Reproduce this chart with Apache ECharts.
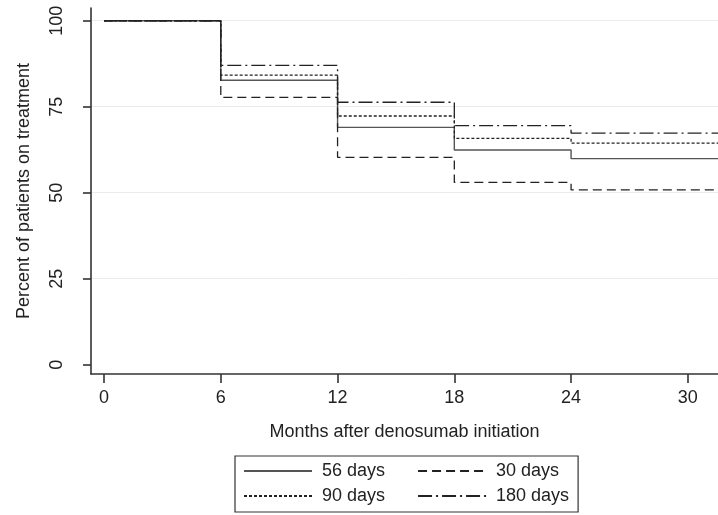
<!DOCTYPE html>
<html>
<head>
<meta charset="utf-8">
<script src="https://cdn.jsdelivr.net/npm/echarts@6/dist/echarts.min.js"></script>
<style>html,body{margin:0;padding:0;background:#fff}#c{width:718px;height:515px}</style>
</head>
<body>
<div id="c"></div>
<script>
// Data
const months = [0, 6, 12, 18, 24];
const days56 = [100, 82.7, 69.0, 62.4, 59.9];
const days30 = [100, 77.7, 60.3, 53.0, 50.8];
const days90 = [100, 84.2, 72.3, 65.8, 64.4];
const days180 = [100, 87.0, 76.3, 69.5, 67.3];
const xTicks = [0, 6, 12, 18, 24, 30];
const yTicks = [0, 25, 50, 75, 100];
const seriesNames = ['56 days', '30 days', '90 days', '180 days'];
const firstColumn = ['56 days', '90 days'];

const X_MIN = -0.67, X_MAX = 31.55, Y_MIN = -2.7, Y_MAX = 103.7;
const FONT = "'Liberation Sans', Arial, Helvetica, sans-serif";
const NB = '\u00a0';

function pts(vals) {
  const p = months.map((m, i) => [m, vals[i]]);
  p.push([X_MAX, vals[vals.length - 1]]);
  return p;
}
function mk(name, vals, type, color, width) {
  return {
    name, type: 'line', step: 'end', symbol: 'none', data: pts(vals),
    lineStyle: { color, width, type }, itemStyle: { color },
    emphasis: { disabled: true }, animation: false
  };
}

const chart = echarts.init(document.getElementById('c'), null, { renderer: 'canvas' });
chart.setOption({
  animation: false,
  backgroundColor: '#fff',
  grid: { left: 91, right: 0, top: 8, bottom: 141, containLabel: false },
  xAxis: {
    type: 'value', min: X_MIN, max: X_MAX,
    name: 'Months after denosumab initiation', nameLocation: 'middle', nameGap: 49,
    nameTextStyle: { fontFamily: FONT, fontSize: 18, color: '#222' },
    axisLine: { show: true, onZero: false, lineStyle: { color: '#333', width: 1.6 } },
    axisTick: { show: true, length: 9, customValues: xTicks, lineStyle: { color: '#333', width: 1.6 } },
    axisLabel: { customValues: xTicks, margin: 15, fontFamily: FONT, fontSize: 18, color: '#222' },
    splitLine: { show: false }
  },
  yAxis: {
    type: 'value', min: Y_MIN, max: Y_MAX,
    name: 'Percent of patients on treatment', nameLocation: 'middle', nameGap: 58,
    nameTextStyle: { fontFamily: FONT, fontSize: 18, color: '#222' },
    axisLine: { show: true, onZero: false, lineStyle: { color: '#333', width: 1.6 } },
    axisTick: { show: true, length: 8, customValues: yTicks, lineStyle: { color: '#333', width: 1.6 } },
    axisLabel: { customValues: yTicks, rotate: 90, margin: 25, fontFamily: FONT, fontSize: 18, color: '#222' },
    splitLine: { show: true, lineStyle: { color: ['rgba(0,0,0,0)', '#ebebeb', '#ebebeb', '#ebebeb', '#ebebeb'], width: 1 } }
  },
  legend: {
    data: seriesNames,
    left: 235, top: 456, width: 335,
    orient: 'horizontal',
    padding: [6, 9, 7, 8],
    itemWidth: 68, itemHeight: 14, itemGap: 7,
    borderColor: '#333', borderWidth: 1.2, borderRadius: 0,
    itemStyle: { opacity: 0 },
    formatter: name => NB + name + (firstColumn.includes(name) ? NB.repeat(5) : ''),
    textStyle: { fontFamily: FONT, fontSize: 18, color: '#222' },
    selectedMode: false
  },
  series: [
    mk('56 days', days56, 'solid', '#555', 1.4),
    mk('30 days', days30, [9, 5], '#222', 1.3),
    mk('90 days', days90, [3, 2], '#222', 1.3),
    mk('180 days', days180, [14, 4, 2, 4], '#222', 1.3)
  ]
});
</script>
</body>
</html>
